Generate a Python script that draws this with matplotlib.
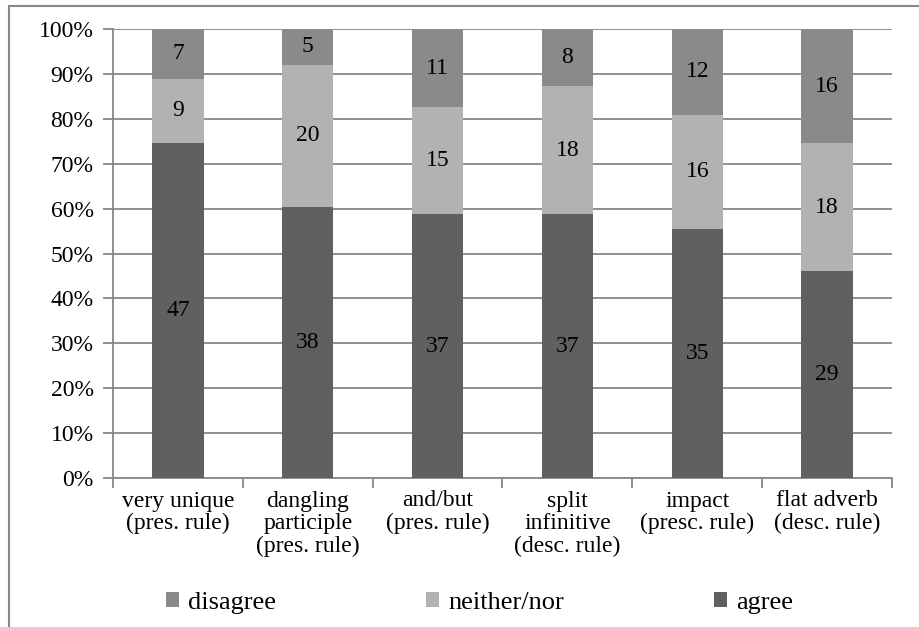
import matplotlib.pyplot as plt
import numpy as np
from matplotlib.patches import Rectangle

plt.rcParams['font.family'] = 'serif'
plt.rcParams['font.serif'] = ['Liberation Serif', 'DejaVu Serif']

# counts of answers per usage item
categories = ['very unique\n(pres. rule)', 'dangling\nparticiple\n(pres. rule)',
              'and/but\n(pres. rule)', 'split\ninfinitive\n(desc. rule)',
              'impact\n(presc. rule)', 'flat adverb\n(desc. rule)']
agree = [47, 38, 37, 37, 35, 29]
neither = [9, 20, 15, 18, 16, 18]
disagree = [7, 5, 11, 8, 12, 16]

c_agree = '#606060'
c_neither = '#b2b2b2'
c_disagree = '#8a8a8a'
grid_c = '#878787'

W, H = 919, 627
fig = plt.figure(figsize=(W / 100, H / 100), dpi=100)
# outer chart frame
fig.patches.append(Rectangle((9 / W, -0.05), 1.0, 1 - 6 / H + 0.05,
                             transform=fig.transFigure, fill=False,
                             edgecolor=grid_c, linewidth=1.5))
ax = fig.add_axes([113 / W, 1 - 478 / H, (892 - 113) / W, (478 - 29) / H])

a = np.array(agree, float)
n = np.array(neither, float)
d = np.array(disagree, float)
tot = a + n + d
pa, pn, pd_ = a / tot * 100, n / tot * 100, d / tot * 100
x = np.arange(len(categories))
w = 0.395

b1 = ax.bar(x, pa, w, color=c_agree, label='agree', zorder=3)
b2 = ax.bar(x, pn, w, bottom=pa, color=c_neither, label='neither/nor', zorder=3)
b3 = ax.bar(x, pd_, w, bottom=pa + pn, color=c_disagree, label='disagree', zorder=3)

for bars, vals in [(b1, agree), (b2, neither), (b3, disagree)]:
    ax.bar_label(bars, labels=[str(v) for v in vals], label_type='center',
                 fontsize=17, color='black', zorder=4)

ax.set_xlim(-0.5, len(categories) - 0.5)
ax.set_ylim(0, 100)
ax.set_yticks(np.arange(0, 101, 10))
ax.set_yticklabels([f'{v}%' for v in range(0, 101, 10)], fontsize=17)
ax.yaxis.grid(True, color=grid_c, linewidth=1.3, zorder=0)
ax.set_axisbelow(True)

ax.set_xticks(x)
ax.set_xticklabels(categories, fontsize=17, linespacing=1.1)
ax.set_xticks(np.arange(len(categories) + 1) - 0.5, minor=True)
ax.tick_params(axis='x', which='major', length=0, pad=9)
ax.tick_params(axis='x', which='minor', length=7, width=1.3, color=grid_c)
ax.tick_params(axis='y', length=7, width=1.3, color=grid_c, pad=7)

for s in ['top', 'right']:
    ax.spines[s].set_visible(False)
for s in ['left', 'bottom']:
    ax.spines[s].set_color(grid_c)
    ax.spines[s].set_linewidth(1.3)

handles = [b3, b2, b1]
anchor = [0.467, -0.27]
leg = ax.legend(handles, ['disagree', 'neither/nor', 'agree'], ncol=3,
                loc='center', bbox_to_anchor=anchor, frameon=False,
                fontsize=19, handlelength=0.48, handleheight=0.48,
                handletextpad=0.35, columnspacing=5.7)

# nudge legend so the first square sits at x=166, bottom at y=607 (px from top)
r = fig.canvas.get_renderer()
fig.canvas.draw()
hb = leg.legend_handles[0].get_window_extent(r)
bw = ax.get_window_extent(r)
anchor[0] += (166 - hb.x0) / bw.width
anchor[1] += ((H - 607) - hb.y0) / bw.height
leg.set_bbox_to_anchor(anchor, transform=ax.transAxes)

fig.savefig('out.png', dpi=100)
